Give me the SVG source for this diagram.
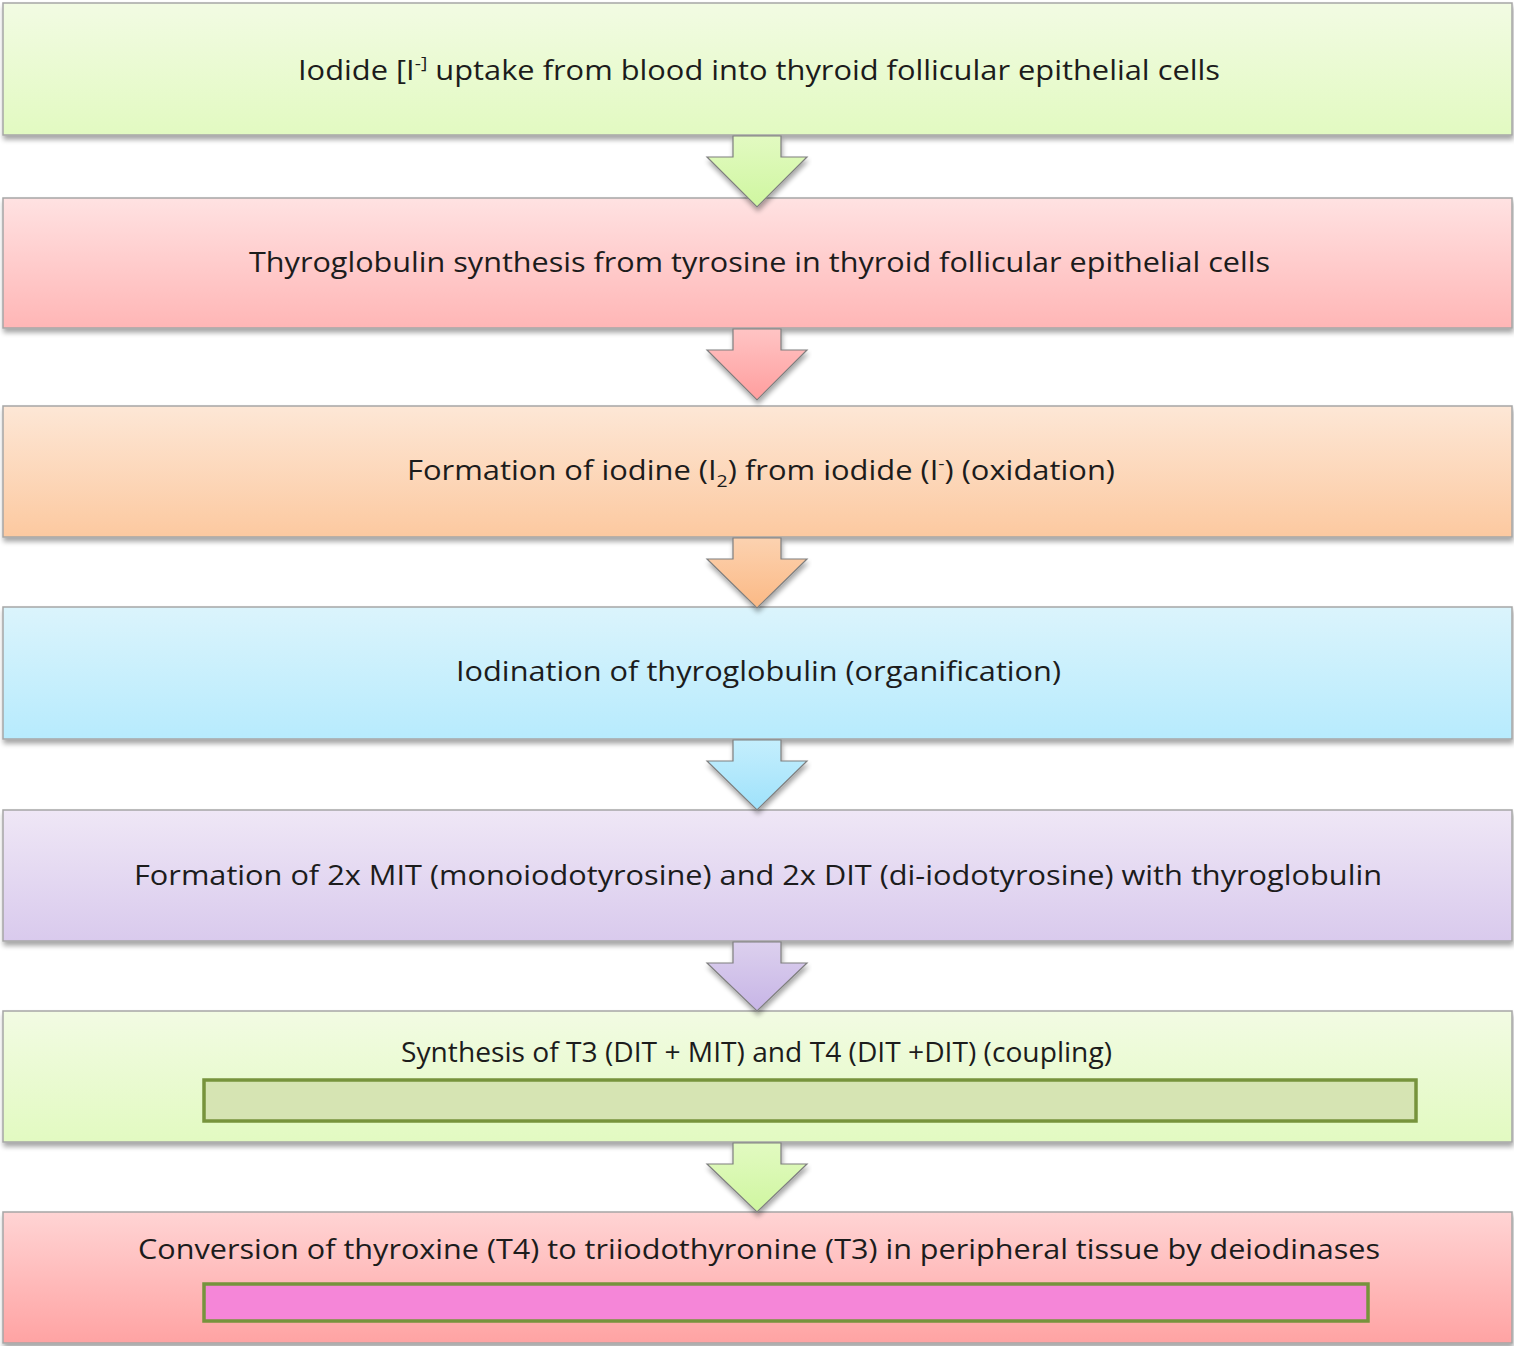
<svg xmlns="http://www.w3.org/2000/svg" width="1514" height="1346" viewBox="0 0 1514 1346">
<style>
.box{stroke:#a6a6a6;stroke-width:1.5;filter:url(#sh)}
.arr{stroke:#7f7f7f;stroke-width:1.2;filter:url(#sh)}
.t{font-family:"Open Sans","Noto Sans",sans-serif;font-size:27px;fill:#1c1c1c;text-anchor:start}
.inner{stroke:#77933c;stroke-width:3.5}
</style>
<defs>
<filter id="sh" x="-5%" y="-20%" width="110%" height="150%">
<feGaussianBlur in="SourceAlpha" stdDeviation="2.5"/>
<feOffset dx="1" dy="4"/>
<feComponentTransfer><feFuncA type="linear" slope="0.35"/></feComponentTransfer>
<feMerge><feMergeNode/><feMergeNode in="SourceGraphic"/></feMerge>
</filter>
<linearGradient id="gGreen" x1="0" y1="0" x2="0" y2="1"><stop offset="0" stop-color="#f2fbe3"/><stop offset="1" stop-color="#e2fac1"/></linearGradient>
<linearGradient id="gPink" x1="0" y1="0" x2="0" y2="1"><stop offset="0" stop-color="#ffe2e2"/><stop offset="1" stop-color="#ffb6b6"/></linearGradient>
<linearGradient id="gOrange" x1="0" y1="0" x2="0" y2="1"><stop offset="0" stop-color="#fde7d6"/><stop offset="1" stop-color="#fcc9a0"/></linearGradient>
<linearGradient id="gBlue" x1="0" y1="0" x2="0" y2="1"><stop offset="0" stop-color="#dbf4fc"/><stop offset="1" stop-color="#b7ebfd"/></linearGradient>
<linearGradient id="gPurple" x1="0" y1="0" x2="0" y2="1"><stop offset="0" stop-color="#efe7f6"/><stop offset="1" stop-color="#d9caed"/></linearGradient>
<linearGradient id="gRed" x1="0" y1="0" x2="0" y2="1"><stop offset="0" stop-color="#ffd4d4"/><stop offset="1" stop-color="#ffa3a3"/></linearGradient>
<linearGradient id="aGreen" x1="0" y1="0" x2="0" y2="1"><stop offset="0" stop-color="#e2fac1"/><stop offset="1" stop-color="#cff6a0"/></linearGradient>
<linearGradient id="aPink" x1="0" y1="0" x2="0" y2="1"><stop offset="0" stop-color="#ffc4c4"/><stop offset="1" stop-color="#ff9e9e"/></linearGradient>
<linearGradient id="aOrange" x1="0" y1="0" x2="0" y2="1"><stop offset="0" stop-color="#fcd2b0"/><stop offset="1" stop-color="#fbb985"/></linearGradient>
<linearGradient id="aBlue" x1="0" y1="0" x2="0" y2="1"><stop offset="0" stop-color="#c4eefd"/><stop offset="1" stop-color="#9fe2fb"/></linearGradient>
<linearGradient id="aPurple" x1="0" y1="0" x2="0" y2="1"><stop offset="0" stop-color="#dcd0ee"/><stop offset="1" stop-color="#c7b5e6"/></linearGradient>
</defs>
<rect width="1514" height="1346" fill="#ffffff"/>

<g id="n1">
<rect class="box" x="3" y="3" width="1509" height="132" fill="url(#gGreen)"/>
<text class="t" x="298" y="80" textLength="922" lengthAdjust="spacingAndGlyphs">Iodide [I<tspan font-size="17" dy="-11">-]</tspan><tspan dy="11"> uptake  from blood  into thyroid follicular epithelial cells</tspan></text>
</g>
<g id="n2">
<rect class="box" x="3" y="198" width="1509" height="130" fill="url(#gPink)"/>
<text class="t" x="249" y="272" textLength="1021" lengthAdjust="spacingAndGlyphs">Thyroglobulin synthesis  from tyrosine  in thyroid  follicular epithelial cells</text>
</g>
<g id="n3">
<rect class="box" x="3" y="406" width="1509" height="131" fill="url(#gOrange)"/>
<text class="t" x="407" y="480" textLength="708" lengthAdjust="spacingAndGlyphs">Formation of iodine (I<tspan font-size="17" dy="7">2</tspan><tspan dy="-7">) from iodide (I</tspan><tspan font-size="17" dy="-11">-</tspan><tspan dy="11">) (oxidation)</tspan></text>
</g>
<g id="n4">
<rect class="box" x="3" y="607" width="1509" height="132" fill="url(#gBlue)"/>
<text class="t" x="456" y="681" textLength="605" lengthAdjust="spacingAndGlyphs">Iodination of thyroglobulin  (organification)</text>
</g>
<g id="n5">
<rect class="box" x="3" y="810" width="1509" height="131" fill="url(#gPurple)"/>
<text class="t" x="134" y="885" textLength="1248" lengthAdjust="spacingAndGlyphs">Formation of 2x MIT (monoiodotyrosine)  and 2x DIT (di-iodotyrosine)  with thyroglobulin</text>
</g>
<g id="n6">
<rect class="box" x="3" y="1011" width="1509" height="131" fill="url(#gGreen)"/>
<text class="t" x="401" y="1062" font-size="25" textLength="711" lengthAdjust="spacingAndGlyphs">Synthesis of T3 (DIT + MIT) and T4  (DIT +DIT) (coupling)</text>
<rect class="inner" x="204" y="1080" width="1212" height="41" fill="#d6e4b3"/>
</g>
<g id="n7">
<rect class="box" x="3" y="1212" width="1509" height="131" fill="url(#gRed)"/>
<text class="t" x="138" y="1259" textLength="1242" lengthAdjust="spacingAndGlyphs">Conversion of thyroxine  (T4) to triiodothyronine  (T3) in peripheral tissue by deiodinases</text>
<rect class="inner" x="204" y="1284" width="1164" height="37" fill="#f586d8"/>
</g>

<g id="connectors">
<path class="arr" fill="url(#aGreen)" d="M733,136 L781,136 L781,157 L807,157 L757,207 L707,157 L733,157 Z"/>
<path class="arr" fill="url(#aPink)" d="M733,329 L781,329 L781,350 L807,350 L757,400 L707,350 L733,350 Z"/>
<path class="arr" fill="url(#aOrange)" d="M733,538 L781,538 L781,559 L807,559 L757,608 L707,559 L733,559 Z"/>
<path class="arr" fill="url(#aBlue)" d="M733,740 L781,740 L781,761 L807,761 L757,810 L707,761 L733,761 Z"/>
<path class="arr" fill="url(#aPurple)" d="M733,942 L781,942 L781,963 L807,963 L757,1011 L707,963 L733,963 Z"/>
<path class="arr" fill="url(#aGreen)" d="M733,1143 L781,1143 L781,1164 L807,1164 L757,1212 L707,1164 L733,1164 Z"/>
</g>
</svg>
